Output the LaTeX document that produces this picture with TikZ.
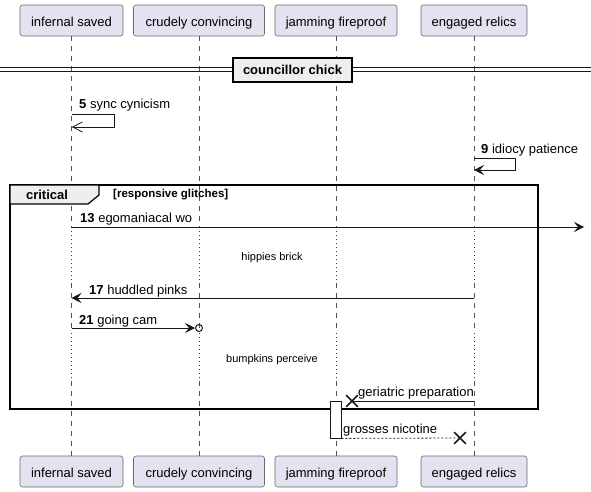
\documentclass[tikz,border=0pt]{standalone}
\usepackage{fontspec}
\setmainfont{Liberation Sans}
\usetikzlibrary{arrows.meta,shapes.misc}
\definecolor{partfill}{HTML}{E2E2F0}
\definecolor{ink}{HTML}{181818}
\definecolor{grpfill}{HTML}{EEEEEE}
\definecolor{delaycol}{HTML}{A80036}
\tikzset{
  part/.style={draw=ink!65, line width=0.6pt, fill=partfill, rounded corners=2.5pt,
    minimum height=31pt, inner sep=0pt, text height=12pt, text depth=0pt,
    font=\fontsize{13}{15}\selectfont},
  life/.style={draw=ink!75, line width=0.5pt, dash pattern=on 5pt off 5pt},
  delayline/.style={draw=delaycol, line width=0.7pt, dash pattern=on 1pt off 3pt},
  msg/.style={draw=ink, line width=0.8pt},
  fhead/.style={-{Stealth[length=10pt,width=10pt,inset=4pt]}},
  ohead/.style={-{Straight Barb[length=10pt,width=10pt,line width=0.8pt]}},
  lbl/.style={anchor=base west, inner sep=0pt, font=\fontsize{13}{15}\selectfont},
  dlbl/.style={anchor=base, inner sep=0pt, font=\fontsize{11}{13}\selectfont},
  xmark/.style={cross out, draw=ink, line width=1.6pt, minimum size=10pt, inner sep=0pt},
}
\begin{document}
\begin{tikzpicture}[x=1pt,y=-1pt]
\useasboundingbox (0,0) rectangle (591,492);
% participants
\node[part, minimum width=103pt] (paT) at (71.5,20.5) {infernal saved};
\node[part, minimum width=131pt] (pbT) at (199,20.5) {crudely convincing};
\node[part, minimum width=122pt] (pcT) at (336,20.5) {jamming fireproof};
\node[part, minimum width=106pt] (pdT) at (474,20.5) {engaged relics};
\node[part, minimum width=103pt] (paB) at (71.5,471.5) {infernal saved};
\node[part, minimum width=131pt] (pbB) at (199,471.5) {crudely convincing};
\node[part, minimum width=122pt] (pcB) at (336,471.5) {jamming fireproof};
\node[part, minimum width=106pt] (pdB) at (474,471.5) {engaged relics};
% y levels
\coordinate (yA) at (0,227);
\coordinate (yB) at (0,283);
\coordinate (yC) at (0,333);
\coordinate (yD) at (0,381);
% lifelines
\foreach \p in {pa,pb,pc,pd}{
  \draw[life] (\p T.south) -- (\p T.south |- yA);
  \draw[delayline] (\p T.south |- yA) -- (\p T.south |- yB);
  \draw[life] (\p T.south |- yB) -- (\p T.south |- yC);
  \draw[delayline] (\p T.south |- yC) -- (\p T.south |- yD);
  \draw[life] (\p T.south |- yD) -- (\p B.north);
}
% divider
\coordinate (dvl1) at (0,68); \coordinate (dvr1) at (591,68);
\coordinate (dvl2) at (0,72); \coordinate (dvr2) at (591,72);
\draw[ink, line width=1pt] (dvl1) -- (dvr1);
\draw[ink, line width=1pt] (dvl2) -- (dvr2);
\node[draw=black, line width=1.5pt, fill=grpfill, minimum width=119pt, minimum height=24pt,
  inner sep=0pt, text height=10pt, text depth=0pt, font=\fontsize{13}{15}\selectfont\bfseries]
  (div) at (292.5,70) {councillor chick};
% message 5 (self, async)
\coordinate (m5a) at (71.5,114); \coordinate (m5b) at (71.5,127);
\draw[msg, ohead] (m5a) -- (114,114) |- (m5b);
\node[lbl] (l5) at (79,109) {\textbf{5} sync cynicism};
% message 9 (self)
\coordinate (m9a) at (474,158); \coordinate (m9b) at (474,170);
\draw[msg, fhead] (m9a) -- (515,158) |- (m9b);
\node[lbl] (l9) at (481,153) {\textbf{9} idiocy patience};
% critical group
\coordinate (cr1) at (10,185); \coordinate (cr2) at (538,409);
\draw[black, line width=1.5pt] (cr1) rectangle (cr2);
\draw[black, line width=1.2pt, fill=grpfill] (10,185) -- (99,185) -- (99,195) -- (88,204) -- (10,204) -- cycle;
\node[inner sep=0pt, font=\fontsize{13}{15}\selectfont\bfseries] (crt) at (47,195) {critical};
\node[anchor=west, inner sep=0pt, font=\fontsize{11.5}{13}\selectfont\bfseries] (crg) at (113,195) {[responsive glitches]};
% message 13
\coordinate (m13a) at (71.5,227); \coordinate (m13b) at (584,227);
\draw[msg, fhead] (m13a) -- (m13b);
\node[lbl] (l13) at (80,222) {\textbf{13} egomaniacal wo};
% delay 1
\node[dlbl] (dl1) at (272,260) {hippies brick};
% message 17
\coordinate (m17a) at (474,298); \coordinate (m17b) at (71.5,298);
\draw[msg, fhead] (m17a) -- (m17b);
\node[lbl] (l17) at (89,294) {\textbf{17} huddled pinks};
% message 21
\node[circle, draw=ink, line width=1pt, minimum size=7pt, inner sep=0pt] (o21) at (199,328) {};
\coordinate (m21a) at (71.5,328);
\draw[msg, fhead] (m21a) -- (o21.west);
\node[lbl] (l21) at (79,324) {\textbf{21} going cam};
% delay 2
\node[dlbl] (dl2) at (272,362) {bumpkins perceive};
% activation
\node[draw=ink, line width=0.8pt, fill=white, minimum width=11pt, minimum height=37pt, inner sep=0pt] (act) at (335.5,419.5) {};
% geriatric preparation
\node[xmark] (x1) at (352,401) {};
\coordinate (mga) at (474,401);
\draw[msg] (mga) -- (x1.center);
\node[lbl] (lg) at (358,396) {geriatric preparation};
% grosses nicotine
\node[xmark] (x2) at (460,438) {};
\draw[msg, dash pattern=on 2pt off 2pt] (act.south east) -- (x2.center);
\node[lbl] (lgn) at (343,433) {grosses nicotine};
\end{tikzpicture}
\end{document}
